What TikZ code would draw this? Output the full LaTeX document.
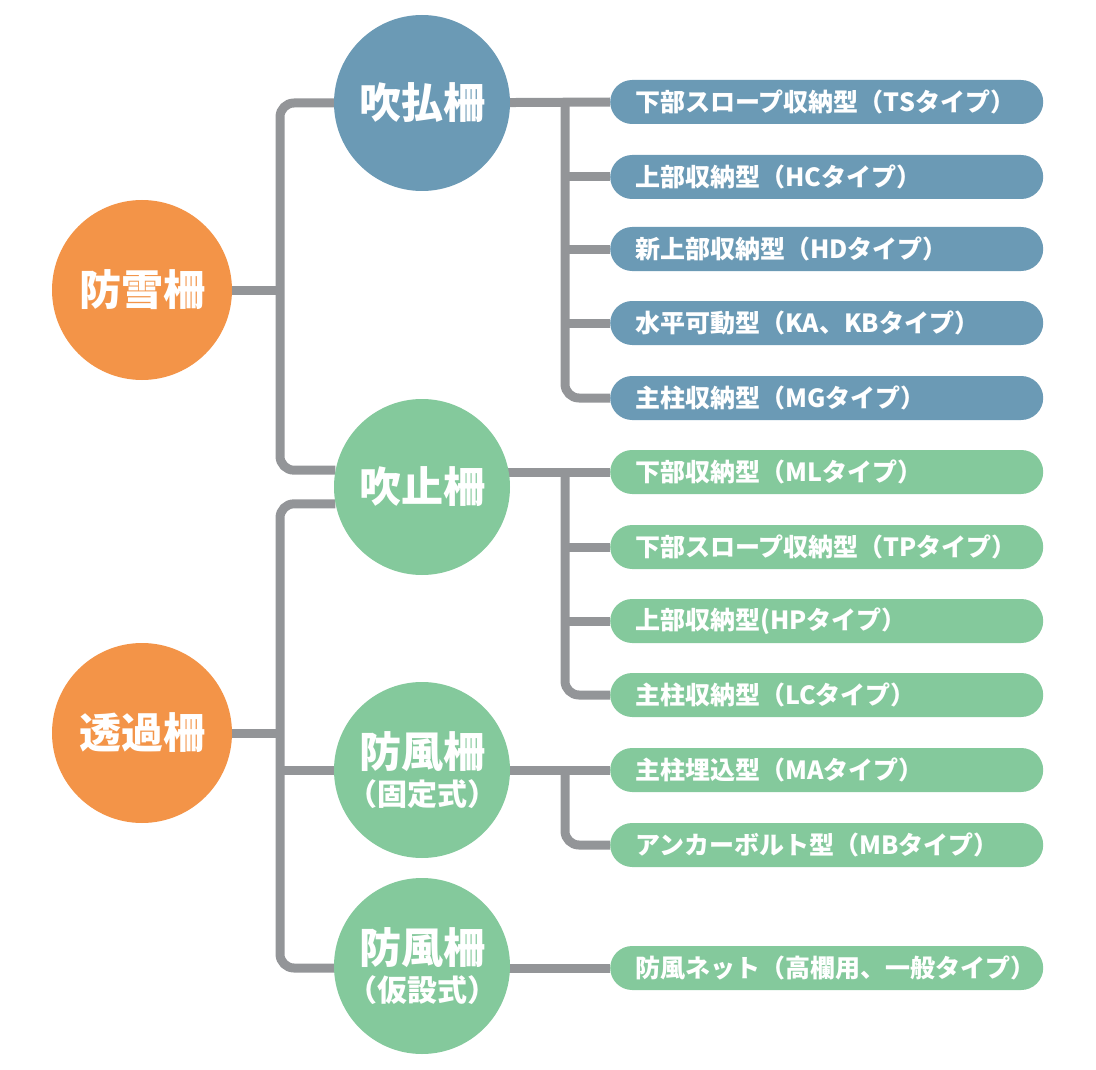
\documentclass[tikz,border=0pt]{standalone}
\usepackage{fontspec}
\setmainfont{Noto Sans CJK JP}
\newfontfamily\heavyfont{Noto Sans CJK JP Black}
\usetikzlibrary{backgrounds}
\definecolor{snoworange}{HTML}{F39448}
\definecolor{fenceblue}{HTML}{6B9AB5}
\definecolor{fencegreen}{HTML}{84C99C}
\definecolor{linegray}{HTML}{939598}
\tikzset{
  hub/.style={circle, fill=snoworange, minimum size=180, inner sep=0, text=white,
    font=\heavyfont\fontsize{42}{46}\selectfont},
  kind/.style={circle, minimum size=176, inner sep=0, text=white, align=center,
    font=\heavyfont\fontsize{42}{42}\selectfont},
  pill/.style={rounded corners=22, minimum height=44, text width=383, inner xsep=25,
    inner ysep=0, align=left, anchor=west, text=white,
    font=\bfseries\fontsize{25}{28}\selectfont},
  conn/.style={draw=linegray, line width=9, rounded corners=14}
}
\begin{document}
\begin{tikzpicture}[x=1pt, y=-1pt]
  \useasboundingbox (0,0) rectangle (1096,1070);
  % main groups
  \node[hub] (bosetsu) at (142,290) {防雪柵};
  \node[hub] (touka) at (142,733) {透過柵};
  % fence kinds
  \node[kind, fill=fenceblue] (fukibarai) at (422,103) {吹払柵};
  \node[kind, fill=fencegreen] (fukitome) at (422,487) {吹止柵};
  \node[kind, fill=fencegreen] (kotei) at (422,770)
    {防風柵\\[-4pt]{\fontsize{30}{32}\selectfont （固定式）}};
  \node[kind, fill=fencegreen] (kasetsu) at (422,966)
    {防風柵\\[-4pt]{\fontsize{30}{32}\selectfont （仮設式）}};
  % types
  \foreach \n/\yy/\c/\t in {
      1/102/fenceblue/下部スロープ収納型（TSタイプ）,
      2/177/fenceblue/上部収納型（HCタイプ）,
      3/249/fenceblue/新上部収納型（HDタイプ）,
      4/323/fenceblue/水平可動型（KA、KBタイプ）,
      5/398/fenceblue/主柱収納型（MGタイプ）,
      6/472/fencegreen/下部収納型（MLタイプ）,
      7/547/fencegreen/下部スロープ収納型（TPタイプ）,
      8/621/fencegreen/上部収納型(HPタイプ）,
      9/695/fencegreen/主柱収納型（LCタイプ）,
      10/770/fencegreen/主柱埋込型（MAタイプ）,
      11/845/fencegreen/アンカーボルト型（MBタイプ）,
      12/968/fencegreen/防風ネット（高欄用、一般タイプ）}
    \node[pill, fill=\c] (p\n) at (610,\yy) {\t};
  % connectors
  \begin{scope}[on background layer]
    \coordinate (tA) at (280,290);
    \coordinate (tB) at (280,733);
    \coordinate (rx) at (565,0);
    \draw[conn] (bosetsu) -- (tA);
    \draw[conn] (fukibarai.center) -| (tA) |- (fukitome.169);
    \draw[conn] (touka) -- (tB);
    \draw[conn] (fukitome.191) -| (tB) |- (kasetsu |- p12);
    \draw[conn] (tB |- kotei) -- (kotei.center);
    \draw[conn] (fukibarai.center) -- (p1.west);
    \draw[conn] (rx |- p1) |- (p5.west);
    \foreach \n in {2,3,4} \draw[conn] (rx |- p\n) -- (p\n.west);
    \draw[conn] (fukitome |- p6) -- (p6.west);
    \draw[conn] (rx |- p6) |- (p9.west);
    \foreach \n in {7,8} \draw[conn] (rx |- p\n) -- (p\n.west);
    \draw[conn] (kotei.center) -- (p10.west);
    \draw[conn] (rx |- p10) |- (p11.west);
    \draw[conn] (kasetsu |- p12) -- (p12.west);
  \end{scope}
\end{tikzpicture}
\end{document}
